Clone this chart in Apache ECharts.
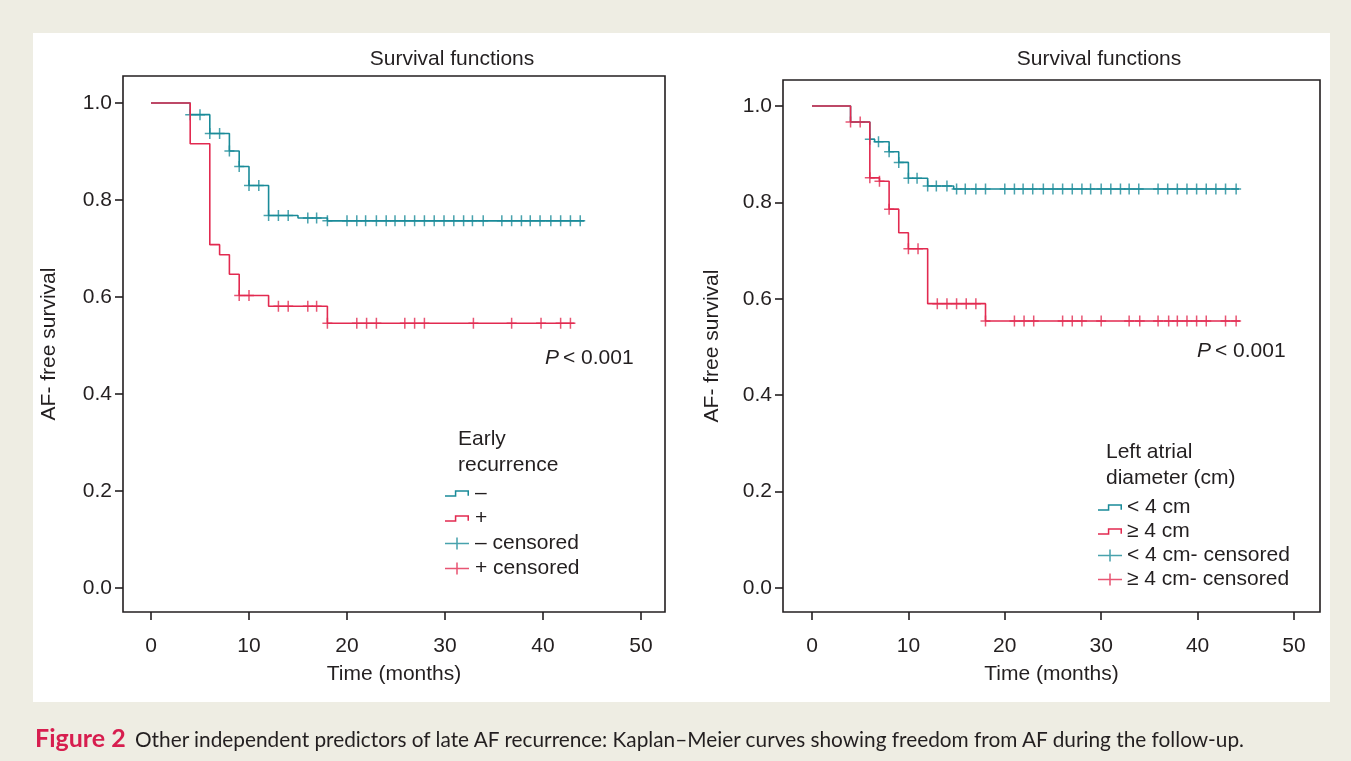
<!DOCTYPE html>
<html>
<head>
<meta charset="utf-8">
<script src="https://cdn.jsdelivr.net/npm/echarts@6/dist/echarts.min.js"></script>
<style>
  body { margin: 0; background: #eeede3; width: 1351px; height: 761px; overflow: hidden; }
  #panel { position: absolute; left: 33px; top: 33px; width: 1297px; height: 669px; background: #fff; }
  #chart { position: absolute; left: 0; top: 0; width: 1351px; height: 761px; }
  #caption { position: absolute; left: 35px; top: 722px; font: 20.8px Lato, sans-serif; color: #231f20; white-space: nowrap; }
  #caption b { color: #d71e4f; font-size: 25px; margin-right: 4px; }
</style>
</head>
<body>
<div id="panel"></div>
<div id="chart"></div>
<div id="caption"><b>Figure 2</b> Other independent predictors of late AF recurrence: Kaplan–Meier curves showing freedom from AF during the follow-up.</div>
<script>
// left panel: early recurrence
const leftNegTimes = [0, 4, 6, 8, 9, 10, 12, 15, 18];
const leftNegSurv = [1.0, 0.976, 0.937, 0.901, 0.869, 0.830, 0.768, 0.763, 0.757];
const leftNegEnd = 44.2;
const leftNegCensored = [4, 5, 6, 7, 8, 9, 10, 11, 12, 13, 14, 16, 16.9, 18, 20, 21, 21.9, 23, 24, 24.9,
  25.9, 26.9, 27.9, 28.9, 29.9, 30.9, 31.9, 32.8, 33.9, 35.8, 36.8, 37.8, 38.7, 39.7, 40.8, 41.8, 42.8, 43.8];

const leftPosTimes = [0, 4, 6, 7, 8, 9, 12, 18];
const leftPosSurv = [1.0, 0.916, 0.708, 0.687, 0.647, 0.603, 0.581, 0.546];
const leftPosEnd = 43.2;
const leftPosCensored = [9, 10, 13, 14, 16, 16.9, 18, 21, 22, 23, 25.9, 26.9, 27.9, 32.9, 36.8, 39.8, 41.8, 42.8];

// right panel: left atrial diameter
const rightSmallTimes = [0, 4, 6, 6.5, 8, 9, 10, 12, 14.7];
const rightSmallSurv = [1.0, 0.967, 0.931, 0.926, 0.905, 0.883, 0.850, 0.834, 0.828];
const rightSmallEnd = 44.3;
const rightSmallCensored = [6, 6.9, 8, 9, 10, 10.9, 12, 12.9, 14, 15, 15.9, 17, 18, 20, 21, 21.9, 22.9, 24, 25,
  26, 27, 28, 28.9, 30, 31, 32, 32.9, 33.9, 35.9, 36.9, 37.9, 38.9, 39.9, 40.9, 41.9, 42.9, 44];

const rightLargeTimes = [0, 4, 6, 7, 8, 9, 10, 12, 18];
const rightLargeSurv = [1.0, 0.967, 0.851, 0.844, 0.786, 0.737, 0.704, 0.590, 0.554];
const rightLargeEnd = 44.4;
const rightLargeCensored = [4, 5, 6, 7, 8, 10, 11, 13, 14, 15, 16, 17, 18, 21, 22, 23, 26, 27, 28, 30,
  32.9, 34, 35.9, 37, 37.9, 38.9, 39.9, 40.9, 42.9, 44];

const xTicks = [0, 10, 20, 30, 40, 50];
const yTicks = [0, 0.2, 0.4, 0.6, 0.8, 1.0];

const leftNames = ['–', '+', '– censored', '+ censored'];
const rightNames = ['< 4 cm', '≥ 4 cm', '< 4 cm- censored', '≥ 4 cm- censored'];

const TEAL = '#1a8b99';
const RED = '#e22a50';
const INK = '#231f20';
const FONT = '"Liberation Sans", Arial, sans-serif';

const crossPath = 'path://M-5,-0.75 L5,-0.75 L5,0.75 L-5,0.75 Z M-0.75,-5.5 L0.75,-5.5 L0.75,5.5 L-0.75,5.5 Z';
const crossIcon = 'path://M0,4.8 L22,4.8 L22,6.2 L0,6.2 Z M10.3,0 L11.7,0 L11.7,11 L10.3,11 Z';
const stepIcon = 'path://M0,4.6 L10.4,4.6 L10.4,6 L0,6 Z M9,0 L10.4,0 L10.4,6 L9,6 Z M9,0 L22,0 L22,1.4 L9,1.4 Z M20.6,0 L22,0 L22,5 L20.6,5 Z';

function stepData(times, surv, end) {
  const pts = times.map((t, i) => [t, surv[i]]);
  pts.push([end, surv[surv.length - 1]]);
  return pts;
}

function survAt(times, surv, t) {
  let v = surv[0];
  for (let i = 0; i < times.length; i++) {
    if (times[i] <= t + 1e-9) v = surv[i];
  }
  return v;
}

function censorData(times, surv, cens) {
  return cens.map(t => [t, survAt(times, surv, t)]);
}

function lineSeries(name, idx, color, data) {
  return {
    name, type: 'line', step: 'end', xAxisIndex: idx, yAxisIndex: idx,
    data, showSymbol: false, color,
    lineStyle: { color, width: 1.6 }
  };
}

function crossSeries(name, idx, color, data) {
  return {
    name, type: 'scatter', xAxisIndex: idx, yAxisIndex: idx,
    data, symbol: crossPath, symbolSize: [10, 11], color,
    itemStyle: { color }
  };
}

function xAxisOf(idx, min, max) {
  return {
    type: 'value', gridIndex: idx, min, max,
    name: 'Time (months)', nameLocation: 'middle', nameGap: 52,
    nameTextStyle: { fontSize: 21, color: INK, fontFamily: FONT },
    axisLine: { show: false, onZero: false },
    axisTick: { show: true, length: 8, customValues: xTicks, lineStyle: { color: INK, width: 1.6 } },
    axisLabel: { customValues: xTicks, margin: 24, fontSize: 21, color: INK, fontFamily: FONT },
    splitLine: { show: false }
  };
}

function yAxisOf(idx, min, max, gap) {
  return {
    type: 'value', gridIndex: idx, min, max,
    name: 'AF- free survival', nameLocation: 'middle', nameGap: gap,
    nameTextStyle: { fontSize: 21, color: INK, fontFamily: FONT },
    axisLine: { show: false, onZero: false },
    axisTick: { show: true, length: 8, customValues: yTicks, lineStyle: { color: INK, width: 1.6 } },
    axisLabel: { customValues: yTicks, margin: 11, fontSize: 21, color: INK, fontFamily: FONT,
      formatter: v => v.toFixed(1) },
    splitLine: { show: false }
  };
}

function legendOf(names, left, top, gap, pad) {
  return {
    orient: 'vertical', left, top, itemGap: gap, itemWidth: 24, itemHeight: 12,
    selectedMode: false,
    textStyle: { fontSize: 21, color: INK, fontFamily: FONT, padding: [0, 0, 0, pad] },
    data: [
      { name: names[0], icon: stepIcon },
      { name: names[1], icon: stepIcon },
      { name: names[2], icon: crossIcon },
      { name: names[3], icon: crossIcon }
    ]
  };
}

function label(text, x, y, extra) {
  return {
    type: 'text', x, y,
    style: Object.assign({ text, fontSize: 21, fontFamily: FONT, fill: INK,
      textAlign: 'left', textVerticalAlign: 'middle' }, extra || {})
  };
}

const chart = echarts.init(document.getElementById('chart'));
chart.setOption({
  animation: false,
  grid: [
    { left: 123, top: 76, width: 542, height: 536, show: true, borderColor: INK, borderWidth: 1.6 },
    { left: 783, top: 80, width: 537, height: 532, show: true, borderColor: INK, borderWidth: 1.6 }
  ],
  xAxis: [xAxisOf(0, -2.857, 52.45), xAxisOf(1, -3.008, 52.70)],
  yAxis: [yAxisOf(0, -0.0495, 1.0557, 63), yAxisOf(1, -0.0498, 1.054, 60)],
  legend: [legendOf(leftNames, 440, 478, 4, 1), legendOf(rightNames, 1093, 492, 3, 0)],
  graphic: [
    label('Survival functions', 452, 59, { textAlign: 'center' }),
    label('Survival functions', 1099, 59, { textAlign: 'center' }),
    label('P', 559, 358, { textAlign: 'right', fontStyle: 'italic' }),
    label('< 0.001', 563, 358),
    label('P', 1211, 351, { textAlign: 'right', fontStyle: 'italic' }),
    label('< 0.001', 1215, 351),
    label('Early', 458, 439),
    label('recurrence', 458, 465),
    label('Left atrial', 1106, 452),
    label('diameter (cm)', 1106, 478)
  ],
  series: [
    lineSeries(leftNames[0], 0, TEAL, stepData(leftNegTimes, leftNegSurv, leftNegEnd)),
    lineSeries(leftNames[1], 0, RED, stepData(leftPosTimes, leftPosSurv, leftPosEnd)),
    crossSeries(leftNames[2], 0, TEAL, censorData(leftNegTimes, leftNegSurv, leftNegCensored)),
    crossSeries(leftNames[3], 0, RED, censorData(leftPosTimes, leftPosSurv, leftPosCensored)),
    lineSeries(rightNames[0], 1, TEAL, stepData(rightSmallTimes, rightSmallSurv, rightSmallEnd)),
    lineSeries(rightNames[1], 1, RED, stepData(rightLargeTimes, rightLargeSurv, rightLargeEnd)),
    crossSeries(rightNames[2], 1, TEAL, censorData(rightSmallTimes, rightSmallSurv, rightSmallCensored)),
    crossSeries(rightNames[3], 1, RED, censorData(rightLargeTimes, rightLargeSurv, rightLargeCensored))
  ]
});
</script>
</body>
</html>
